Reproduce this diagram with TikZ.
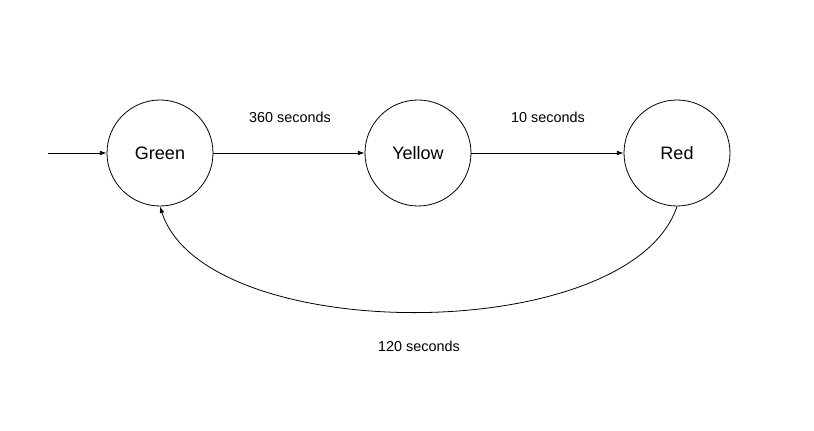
\documentclass[tikz,border=0pt]{standalone}
\usepackage{fontspec}
\setmainfont{Liberation Sans}
\usetikzlibrary{arrows.meta}
\begin{document}
\begin{tikzpicture}[x=0.75pt,y=-0.75pt,
  state/.style={draw,circle,minimum size=79.5pt,inner sep=0pt,line width=0.6pt,font=\fontsize{13.5}{16}\selectfont},
  conn/.style={line width=0.6pt,-{Latex[length=5pt,width=3.5pt]}},
  lbl/.style={font=\fontsize{10.8}{13}\selectfont}]
\useasboundingbox (0,0) rectangle (814,431);
\node[state] (g) at (160,153) {Green};
\node[state] (y) at (418,153) {Yellow};
\node[state] (r) at (677,153) {Red};
\coordinate (s) at (48,153);
\draw[conn] (s) -- (g);
\draw[conn] (g) -- (y);
\draw[conn] (y) -- (r);
\draw[conn] (r.south) .. controls (630,347) and (205,347) .. (g.south);
\node[lbl] (l1) at (290,117) {360 seconds};
\node[lbl] (l2) at (548,117) {10 seconds};
\node[lbl] (l3) at (419,346) {120 seconds};
\end{tikzpicture}
\end{document}
